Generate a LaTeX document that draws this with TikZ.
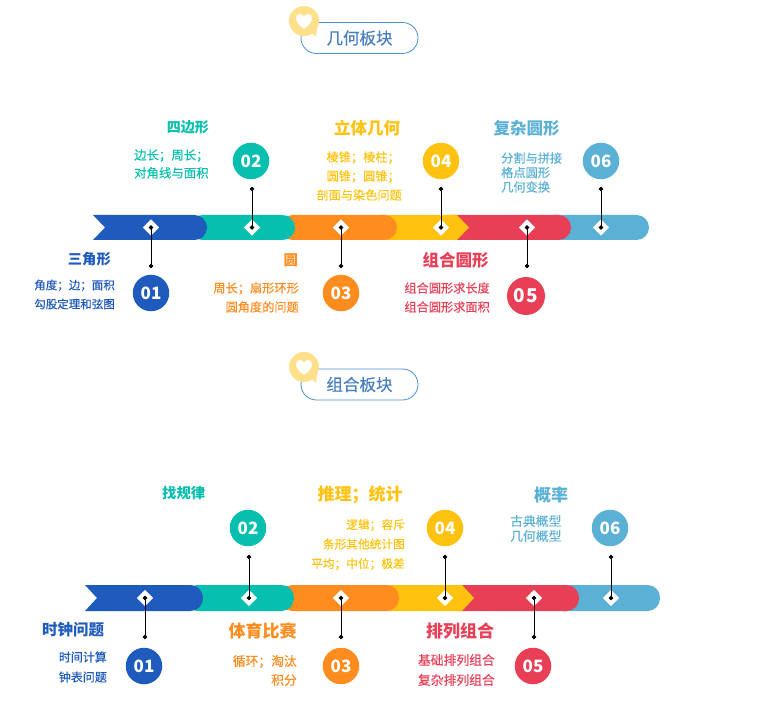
\documentclass[tikz,border=0pt]{standalone}
\usepackage{fontspec}
\setmainfont{Noto Sans CJK SC}
\newfontfamily\medfont{Noto Sans CJK SC}[FakeBold=0.25]
\usetikzlibrary{shapes.geometric,arrows.meta}
\definecolor{cblue}{HTML}{1F5BBD}
\definecolor{cteal}{HTML}{06BFAE}
\definecolor{corange}{HTML}{FF8C1F}
\definecolor{cyellow}{HTML}{FFC20E}
\definecolor{cred}{HTML}{E83F57}
\definecolor{clight}{HTML}{5AB0D5}
\definecolor{cpill}{HTML}{4A90D2}
\definecolor{ctitle}{HTML}{4A7FC0}
\definecolor{cball}{HTML}{FFE08A}
\tikzset{
  seg/.style={rounded corners=12.5pt},
  mark diamond/.style={diamond,fill=white,minimum width=16.5pt,minimum height=16.5pt,inner sep=0pt},
  stem/.style={draw=black,line width=1pt,{Circle[length=4.2pt]}-{Circle[length=4.2pt]},shorten <=-2.1pt,shorten >=-2.1pt},
  num/.style={circle,fill=#1,text=white,minimum size=36.5pt,inner sep=0pt,font=\fontsize{17}{17}\selectfont\bfseries},
  head/.style={text=#1,inner sep=0pt,font=\fontsize{14.3}{18}\selectfont\bfseries},
  headb/.style={text=#1,inner sep=0pt,font=\fontsize{17}{20}\selectfont\bfseries},
  body/.style={text=#1,inner sep=0pt,font=\medfont\fontsize{12.2}{19}\selectfont},
  pill/.style={draw=cpill,line width=.8pt,rounded corners=15.5pt,fill=white,minimum width=117pt,minimum height=31pt,inner sep=0pt,text=ctitle,font=\medfont\fontsize{16.5}{20}\selectfont},
  balloon/.pic={
    \fill[cball] (0,0) circle[radius=15] ;
    \fill[cball] (6,10) -- (12,16) -- (13,7) -- cycle;
    \fill[white] (0,8) .. controls (-6,4) and (-8,0) .. (-8,-3) .. controls (-8,-7) and (-2,-9) .. (0,-4) .. controls (2,-9) and (8,-7) .. (8,-3) .. controls (8,0) and (6,4) .. (0,8) -- cycle;
  }
}
\begin{document}
\begin{tikzpicture}[x=1pt,y=-1pt]
\useasboundingbox (0,0) rectangle (779,703);

% ---------- top header
\node[pill] (t1) at (359.5,38) {几何板块};
\pic at (304,21) {balloon};

% ---------- top bar
\fill[clight,seg] (540,215) rectangle (649,240);
\fill[cred,seg] (440,215) rectangle (571,240);
\fill[cyellow] (380,215) -- (457,215) -- (469,227.5) -- (457,240) -- (380,240) -- cycle;
\fill[corange,seg] (280,215) rectangle (397,240);
\fill[cteal,seg] (190,215) rectangle (295,240);
\fill[cblue] (93,215) -- (194.5,215) .. controls (201.5,215) and (207,220.5) .. (207,227.5) .. controls (207,234.5) and (201.5,240) .. (194.5,240) -- (93,240) -- (105,227.5) -- cycle;

\foreach \n/\x in {a1/151,a2/252,a3/341,a4/441,a5/527,a6/601}
  \node[mark diamond] (\n) at (\x,227.5) {};

\coordinate (ea1) at (151,266);
\coordinate (ea2) at (252,189);
\coordinate (ea3) at (341,266);
\coordinate (ea4) at (441,189);
\coordinate (ea5) at (527,266);
\coordinate (ea6) at (601,189);
\foreach \n in {1,...,6} \draw[stem] (a\n.center) -- (ea\n);

\node[num=cblue] (ca1) at (151,293) {01};
\node[num=cteal] (ca2) at (251,161) {02};
\node[num=corange] (ca3) at (341,293) {03};
\node[num=cyellow] (ca4) at (441,161) {04};
\node[num=cred,minimum size=38pt,font=\fontsize{19}{19}\selectfont\bfseries] (ca5) at (526,296) {0\kern1pt5};
\node[num=clight] (ca6) at (601,161) {06};

\node[head=cblue,anchor=east] (ha1) at (111,259) {三角形};
\node[body=cblue,anchor=east,align=right,font=\medfont\fontsize{11.5}{19}\selectfont] (ba1) at (115,294.5) {角度；边；面积\\勾股定理和弦图};
\node[head=cteal,anchor=east,font=\fontsize{14}{18}\selectfont\bfseries] (ha2) at (209,127) {四边形};
\node[body=cteal,anchor=west,align=left,font=\medfont\fontsize{12.4}{18}\selectfont] (ba2) at (134,164) {边长；周长；\\对角线与面积};
\node[head=corange,anchor=east] (ha3) at (298,260) {圆};
\node[body=corange,anchor=east,align=right] (ba3) at (299,297.5) {周长；扇形环形\\圆角度的问题};
\node[headb=cyellow,font=\fontsize{16.5}{20}\selectfont\bfseries] (ha4) at (367,128) {立体几何};
\node[body=cyellow,anchor=east,align=right] (ba4) at (402,176) {棱锥；棱柱；\kern2pt\\圆锥；圆锥；\kern2pt\\剖面与染色问题};
\node[headb=cred,font=\fontsize{16.5}{20}\selectfont\bfseries] (ha5) at (455.5,260) {组合圆形};
\node[body=cred,anchor=east,align=right] (ba5) at (490,297.5) {组合圆形求长度\\组合圆形求面积};
\node[headb=clight,font=\fontsize{16.5}{20}\selectfont\bfseries] (ha6) at (526.5,128) {复杂圆形};
\node[body=clight,anchor=west,align=left,font=\medfont\fontsize{12.2}{14.5}\selectfont] (ba6) at (501,172.5) {分割与拼接\\格点圆形\\几何变换};

% ---------- bottom header
\node[pill] (t2) at (359.5,384.5) {组合板块};
\pic at (304,367) {balloon};

% ---------- bottom bar
\fill[clight,seg] (550,585) rectangle (660,611);
\fill[cred,seg] (445,585) rectangle (579,611);
\fill[cyellow] (385,585) -- (462,585) -- (474,598) -- (462,611) -- (385,611) -- cycle;
\fill[corange,seg] (280,585) rectangle (399,611);
\fill[cteal,seg] (185,585) rectangle (294,611);
\fill[cblue] (85,585) -- (190.5,585) .. controls (197.5,585) and (203,591) .. (203,598) .. controls (203,605) and (197.5,611) .. (190.5,611) -- (85,611) -- (97,598) -- cycle;

\foreach \n/\x in {b1/145,b2/249,b3/341,b4/445,b5/534,b6/611}
  \node[mark diamond] (\n) at (\x,598) {};

\coordinate (eb1) at (145,637);
\coordinate (eb2) at (249,557);
\coordinate (eb3) at (341,637);
\coordinate (eb4) at (445,557);
\coordinate (eb5) at (534,637);
\coordinate (eb6) at (611,557);
\foreach \n in {1,...,6} \draw[stem] (b\n.center) -- (eb\n);

\node[num=cblue] (cb1) at (144,666) {01};
\node[num=cteal] (cb2) at (248,528) {02};
\node[num=corange] (cb3) at (341,666) {03};
\node[num=cyellow] (cb4) at (445,528) {04};
\node[num=cred] (cb5) at (533,666) {05};
\node[num=clight] (cb6) at (610,528) {06};

\node[head=cblue,anchor=west,font=\fontsize{15.5}{18}\selectfont\bfseries] (hb1) at (42,630) {时钟问题};
\node[body=cblue,anchor=east,align=right,font=\medfont\fontsize{12}{20}\selectfont] (bb1) at (107,667) {时间计算\\钟表问题};
\node[head=cteal,anchor=west] (hb2) at (162,493) {找规律};
\node[headb=corange] (hb3) at (262.5,631) {体育比赛};
\node[body=corange,anchor=east,align=right,font=\medfont\fontsize{12.8}{19}\selectfont] (bb3) at (297,670.5) {循环；淘汰\\积分};
\node[headb=cyellow] (hb4) at (360,495) {推理；统计};
\node[body=cyellow,anchor=east,align=right,font=\medfont\fontsize{11.7}{19.5}\selectfont] (bb4) at (405,544.5) {逻辑；容斥\\条形其他统计图\\平均；中位；极差};
\node[headb=cred] (hb5) at (460,631) {排列组合};
\node[body=cred,anchor=east,align=right,font=\medfont\fontsize{12.8}{20}\selectfont] (bb5) at (495,670) {基础排列组合\\复杂排列组合};
\node[headb=clight] (hb6) at (551,495) {概率};
\node[body=clight,anchor=west,align=left,font=\medfont\fontsize{12.8}{15}\selectfont] (bb6) at (510,528.5) {古典概型\\几何概型};
\end{tikzpicture}
\end{document}
